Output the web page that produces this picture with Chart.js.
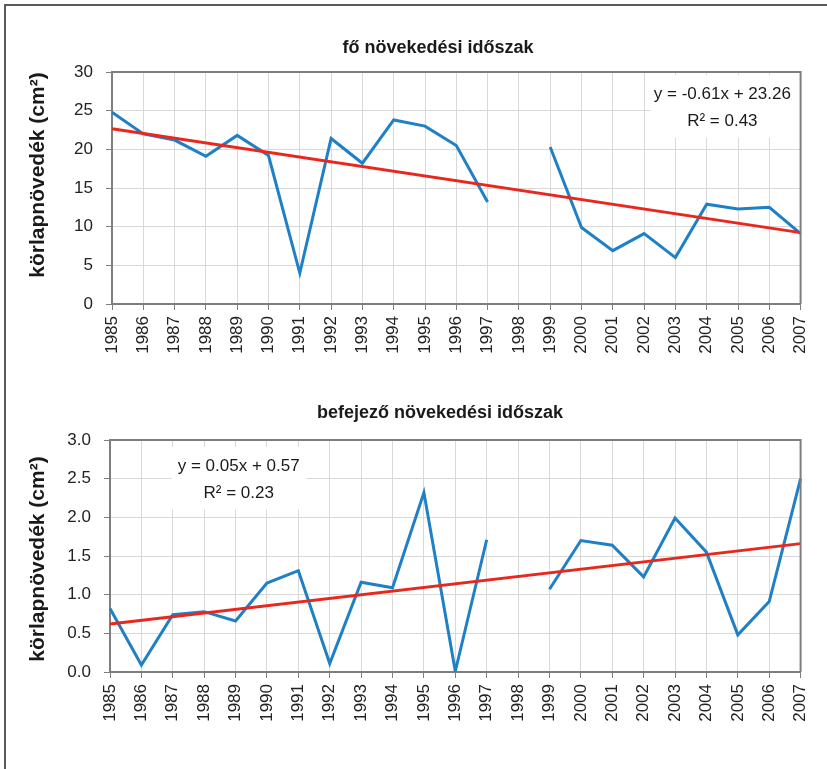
<!DOCTYPE html>
<html>
<head>
<meta charset="utf-8">
<script src="https://cdn.jsdelivr.net/npm/chart.js@4.4.0/dist/chart.umd.min.js"></script>
<style>
  body { margin: 0; background: #fff; }
  #wrap { position: relative; width: 827px; height: 769px; overflow: hidden; }
  #frame { position: absolute; left: 4px; top: 4px; width: 900px; height: 900px; border: 2px solid #5a5a5a; }
  canvas { position: absolute; left: 0; }
</style>
</head>
<body>
<div id="wrap">
  <div id="frame"></div>
  <canvas id="fo-canvas" width="827" height="360" style="top:0px"></canvas>
  <canvas id="bef-canvas" width="827" height="358" style="top:370px"></canvas>
</div>
<script>
// evek (kategoriak)
var years = ['1985', '1986', '1987', '1988', '1989', '1990', '1991', '1992', '1993', '1994', '1995', '1996',
  '1997', '1998', '1999', '2000', '2001', '2002', '2003', '2004', '2005', '2006', '2007'];

// fo novekedesi idoszak
var foValues = [24.8, 22.0, 21.2, 19.1, 21.8, 19.2, 4.0, 21.4, 18.2, 23.8, 23.0, 20.5,
  13.2, null, 20.3, 9.9, 6.9, 9.1, 6.0, 12.9, 12.3, 12.5, 9.1];
var foTrend = [22.65, 9.23];   // trendvonal elso es utolso eve
var foEquation = ['y = -0.61x + 23.26', 'R\u00b2 = 0.43'];
var foTicks = [0, 5, 10, 15, 20, 25, 30];

// befejezo novekedesi idoszak
var befValues = [0.82, 0.09, 0.74, 0.78, 0.66, 1.15, 1.31, 0.11, 1.16, 1.09, 2.32, 0.01,
  1.71, null, 1.07, 1.70, 1.64, 1.23, 1.99, 1.55, 0.48, 0.91, 2.50];
var befTrend = [0.62, 1.66];
var befEquation = ['y = 0.05x + 0.57', 'R\u00b2 = 0.23'];
var befTicks = [0, 0.5, 1, 1.5, 2, 2.5, 3];

var yTitle = 'körlapnövedék (cm²)';
var fontFam = '"Liberation Sans", Arial, sans-serif';

function trendData(ends) {
  var d = years.map(function () { return null; });
  d[0] = ends[0];
  d[d.length - 1] = ends[1];
  return d;
}

// keret a rajzterulet kore + cimek + egyenlet doboz
var extras = {
  id: 'extras',
  beforeDatasetsDraw: function (chart) {
    var o = chart.options.plugins.extras;
    var ctx = chart.ctx, x = chart.scales.x, y = chart.scales.y;
    var b = o.box;
    var l = x.getPixelForValue(b[0]), r = Math.min(x.getPixelForValue(b[1]), chart.chartArea.right);
    var t = y.getPixelForValue(b[2]), bt = y.getPixelForValue(b[3]);
    ctx.save();
    ctx.fillStyle = '#fff';
    ctx.fillRect(l, t, r - l, bt - t);
    ctx.fillStyle = '#1a1a1a';
    ctx.font = '17px ' + fontFam;
    ctx.textAlign = 'center';
    ctx.textBaseline = 'middle';
    var cx = x.getPixelForValue(o.textAt[0]);
    ctx.fillText(o.lines[0], cx, y.getPixelForValue(o.textAt[1]));
    ctx.fillText(o.lines[1], cx, y.getPixelForValue(o.textAt[2]));
    ctx.restore();
  },
  afterDraw: function (chart) {
    var o = chart.options.plugins.extras;
    var ctx = chart.ctx, a = chart.chartArea;
    ctx.save();
    ctx.strokeStyle = '#7f7f7f';
    ctx.lineWidth = 2;
    ctx.beginPath();
    ctx.moveTo(a.left, a.top);
    ctx.lineTo(a.right, a.top);
    ctx.lineTo(a.right, a.bottom);
    ctx.stroke();
    ctx.fillStyle = '#1a1a1a';
    ctx.font = 'bold 18px ' + fontFam;
    ctx.textAlign = 'center';
    ctx.textBaseline = 'middle';
    ctx.fillText(o.title, o.titleX, o.titleY);
    // y tengely felirat
    ctx.translate(38, (a.top + a.bottom) / 2 + o.yTitleShift);
    ctx.rotate(-Math.PI / 2);
    ctx.font = 'bold 21px ' + fontFam;
    ctx.fillText(yTitle, 0, 0);
    ctx.restore();
  }
};

function settings(values, trend, ticks, ext, leftW, decimals) {
  return {
    type: 'line',
    data: {
      labels: years,
      datasets: [
        { data: trendData(trend), borderColor: '#e8281e', borderWidth: 3, pointRadius: 0, spanGaps: true, order: 0 },
        { data: values, borderColor: '#1f80c6', borderWidth: 3, pointRadius: 0, spanGaps: false, order: 1 }
      ]
    },
    options: {
      responsive: false,
      animation: false,
      layout: { padding: { left: 0, right: 24, top: ext.plotTop, bottom: 0 } },
      plugins: { legend: { display: false }, tooltip: { enabled: false }, extras: ext },
      scales: {
        x: {
          offset: false,
          grid: { color: '#d9d9d9', lineWidth: 1, tickLength: 6, tickColor: '#7f7f7f' },
          border: { color: '#7f7f7f', width: 2 },
          ticks: { color: '#222', font: { size: 17, family: fontFam },
            minRotation: 90, maxRotation: 90, padding: 6, autoSkip: false },
          afterFit: function (s) { s.height = 56; }
        },
        y: {
          min: ticks[0], max: ticks[ticks.length - 1],
          afterBuildTicks: function (s) { s.ticks = ticks.map(function (v) { return { value: v }; }); },
          grid: { color: '#d9d9d9', lineWidth: 1, tickLength: 6, tickColor: '#7f7f7f' },
          border: { color: '#7f7f7f', width: 2 },
          ticks: { color: '#222', padding: 13, font: { size: 17, family: fontFam },
            callback: function (v) { return v.toFixed(decimals); } },
          afterFit: function (s) { s.width = leftW; }
        }
      }
    },
    plugins: [extras]
  };
}

new Chart(document.getElementById('fo-canvas'), settings(foValues, foTrend, foTicks, {
  title: 'fő növekedési időszak', titleX: 438, titleY: 48, plotTop: 72, yTitleShift: -13,
  lines: foEquation, textAt: [19.5, 27.1, 23.6], box: [17.2, 23, 29.6, 21.5]
}, 112, 0));

new Chart(document.getElementById('bef-canvas'), settings(befValues, befTrend, befTicks, {
  title: 'befejező növekedési időszak', titleX: 440, titleY: 43, plotTop: 70, yTitleShift: 3,
  lines: befEquation, textAt: [4.1, 2.66, 2.31], box: [1.97, 6.25, 2.91, 2.10]
}, 110, 1));
</script>
</body>
</html>
